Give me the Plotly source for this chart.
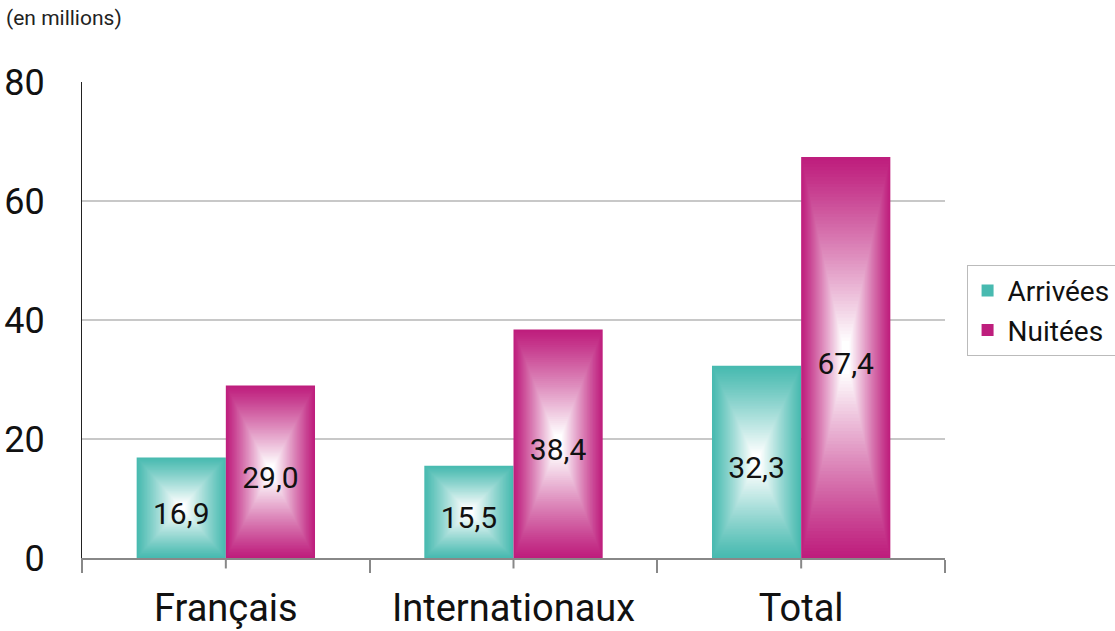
import plotly.graph_objects as go

categories = ["Français", "Internationaux", "Total"]
arrivees = [16.9, 15.5, 32.3]
nuitees = [29.0, 38.4, 67.4]
labels_arrivees = ["16,9", "15,5", "32,3"]
labels_nuitees = ["29,0", "38,4", "67,4"]
series_names = ["Arrivées", "Nuitées"]
y_ticks = [0, 20, 40, 60, 80]

TEAL = (72, 186, 176)
MAGENTA = (190, 30, 125)
FONT = "Roboto, DejaVu Sans, sans-serif"

BAR_W = 0.31
N_LAYERS = 60
TEXT_SHIFT = -1.0  # small downward nudge of the in-bar labels


def mix(c, t):
    return "rgb(%d,%d,%d)" % tuple(round(ci + (255 - ci) * t) for ci in c)


fig = go.Figure()

for name, vals, col, center in [
    (series_names[0], arrivees, TEAL, -BAR_W / 2),
    (series_names[1], nuitees, MAGENTA, BAR_W / 2),
]:
    for i in range(N_LAYERS):
        t = i / N_LAYERS
        w = BAR_W * (1 - t)
        fig.add_trace(go.Bar(
            x=categories,
            y=[v * (1 - t) for v in vals],
            base=[v * t / 2 for v in vals],
            width=w,
            offset=center - w / 2,
            marker=dict(color=mix(col, min(1.0, t ** 1.1 * 1.1)), line=dict(width=0)),
            name=name,
            legendgroup=name,
            showlegend=(i == 0),
            hoverinfo="skip",
        ))

for vals, labels, center in [
    (arrivees, labels_arrivees, -BAR_W / 2),
    (nuitees, labels_nuitees, BAR_W / 2),
]:
    fig.add_trace(go.Bar(
        x=categories,
        y=vals,
        base=[TEXT_SHIFT] * len(vals),
        width=BAR_W,
        offset=center - BAR_W / 2,
        marker=dict(color="rgba(0,0,0,0)", line=dict(width=0)),
        text=labels,
        textposition="inside",
        insidetextanchor="middle",
        textfont=dict(family=FONT, size=30, color="#111"),
        constraintext="none",
        showlegend=False,
        hoverinfo="skip",
        cliponaxis=False,
    ))

# small center ticks under each group
for c in categories:
    fig.add_shape(type="line", x0=c, x1=c, xref="x", yref="paper",
                  y0=0, y1=-0.022, line=dict(color="#888", width=2))

fig.add_annotation(text="(en millions)", xref="paper", yref="paper",
                   x=-0.09, y=1.134, xanchor="left", yanchor="middle",
                   showarrow=False, font=dict(family=FONT, size=21, color="#222"))

fig.update_layout(
    width=1115, height=631,
    margin=dict(l=82, r=170, t=82, b=73, autoexpand=False),
    paper_bgcolor="white", plot_bgcolor="white",
    barmode="overlay",
    font=dict(family=FONT, color="#111"),
    legend=dict(
        x=1.025, y=0.616, xanchor="left", yanchor="top",
        bordercolor="#bbb", borderwidth=1,
        font=dict(family=FONT, size=28, color="#111"),
        itemsizing="constant", traceorder="normal",
    ),
    xaxis=dict(
        type="category", showgrid=False, automargin=False,
        showline=True, linecolor="#888", linewidth=2,
        ticks="outside", tickson="boundaries", ticklen=13, tickcolor="#888", tickwidth=2,
        tickfont=dict(family=FONT, size=38, color="#111"),
        ticklabelstandoff=15,
        range=[-0.5, 2.5],
    ),
    yaxis=dict(
        range=[0, 80], tickvals=y_ticks, automargin=False,
        showgrid=True, gridcolor="#c8c8c8", gridwidth=1.5,
        showline=True, linecolor="#222", linewidth=1,
        ticks="", zeroline=False,
        tickfont=dict(family=FONT, size=36, color="#111"),
        ticklabelstandoff=29,
    ),
)

fig.write_html("out.html",
               config={"displayModeBar": False},
               post_script="document.body.style.margin='0';document.body.style.overflow='hidden';")
